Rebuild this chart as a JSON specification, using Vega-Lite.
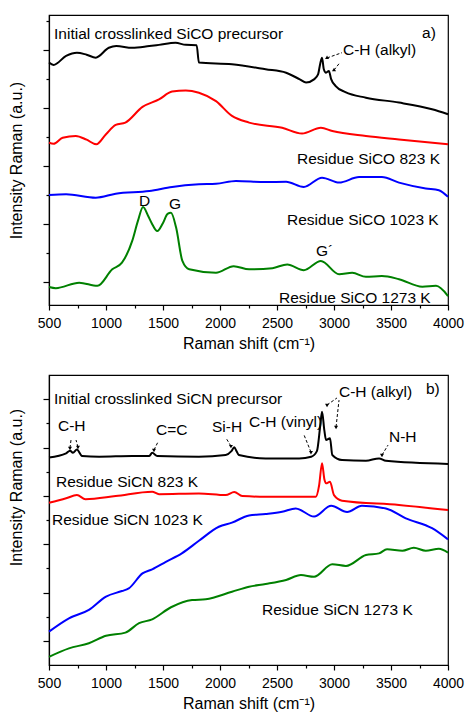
{
  "$schema": "https://vega.github.io/schema/vega-lite/v6.json",
  "padding": {"left": 7, "top": 14, "right": 0, "bottom": 0},
  "spacing": 22,
  "config": {
    "font": "Liberation Sans",
    "view": {"stroke": "#000", "strokeWidth": 1.2},
    "axis": {"grid": false, "domainColor": "#000", "tickColor": "#000", "labelColor": "#000", "titleColor": "#000", "labelFont": "Liberation Sans", "titleFont": "Liberation Sans", "labelFontSize": 14, "titleFontSize": 16, "titleFontWeight": "normal", "domainWidth": 1.2, "tickWidth": 1.2}
  },
  "datasets": {
    "spectraA": [
      {"series":"pre","shift":500,"intensity":7.56},{"series":"pre","shift":540,"intensity":7.48},{"series":"pre","shift":650,"intensity":7.79},{"series":"pre","shift":745,"intensity":7.90},{"series":"pre","shift":830,"intensity":7.83},{"series":"pre","shift":910,"intensity":7.73},{"series":"pre","shift":1025,"intensity":8.07},{"series":"pre","shift":1090,"intensity":8.13},{"series":"pre","shift":1230,"intensity":8.07},{"series":"pre","shift":1380,"intensity":8.13},{"series":"pre","shift":1465,"intensity":8.17},{"series":"pre","shift":1610,"intensity":8.24},{"series":"pre","shift":1700,"intensity":8.17},{"series":"pre","shift":1795,"intensity":8.16},{"series":"pre","shift":1815,"intensity":7.56},{"series":"pre","shift":2105,"intensity":7.50},{"series":"pre","shift":2400,"intensity":7.33},{"series":"pre","shift":2580,"intensity":7.21},{"series":"pre","shift":2700,"intensity":6.98},{"series":"pre","shift":2755,"intensity":6.87},{"series":"pre","shift":2825,"intensity":6.98},{"series":"pre","shift":2860,"intensity":7.15},{"series":"pre","shift":2880,"intensity":7.54},{"series":"pre","shift":2895,"intensity":7.73},{"series":"pre","shift":2910,"intensity":7.34},{"series":"pre","shift":2930,"intensity":7.21},{"series":"pre","shift":2955,"intensity":7.27},{"series":"pre","shift":2975,"intensity":6.99},{"series":"pre","shift":3015,"intensity":6.75},{"series":"pre","shift":3100,"intensity":6.54},{"series":"pre","shift":3280,"intensity":6.35},{"series":"pre","shift":3570,"intensity":6.18},{"series":"pre","shift":3860,"intensity":5.95},{"series":"pre","shift":4000,"intensity":5.78},
      {"series":"823","shift":500,"intensity":4.80},{"series":"823","shift":540,"intensity":4.76},{"series":"823","shift":620,"intensity":4.97},{"series":"823","shift":735,"intensity":5.03},{"series":"823","shift":830,"intensity":4.90},{"series":"823","shift":915,"intensity":4.74},{"series":"823","shift":1000,"intensity":5.09},{"series":"823","shift":1085,"intensity":5.41},{"series":"823","shift":1170,"intensity":5.49},{"series":"823","shift":1320,"intensity":6.03},{"series":"823","shift":1465,"intensity":6.29},{"series":"823","shift":1580,"intensity":6.56},{"series":"823","shift":1700,"intensity":6.60},{"series":"823","shift":1815,"intensity":6.52},{"series":"823","shift":1965,"intensity":6.23},{"series":"823","shift":2105,"intensity":5.72},{"series":"823","shift":2255,"intensity":5.49},{"series":"823","shift":2545,"intensity":5.31},{"series":"823","shift":2720,"intensity":5.11},{"series":"823","shift":2885,"intensity":5.31},{"series":"823","shift":2985,"intensity":5.20},{"series":"823","shift":3280,"intensity":5.03},{"series":"823","shift":3570,"intensity":4.91},{"series":"823","shift":4000,"intensity":4.74},
      {"series":"1023","shift":500,"intensity":2.99},{"series":"1023","shift":650,"intensity":3.02},{"series":"1023","shift":910,"intensity":2.90},{"series":"1023","shift":1085,"intensity":3.04},{"series":"1023","shift":1380,"intensity":3.13},{"series":"1023","shift":1580,"intensity":3.27},{"series":"1023","shift":1815,"intensity":3.36},{"series":"1023","shift":1965,"intensity":3.38},{"series":"1023","shift":2140,"intensity":3.48},{"series":"1023","shift":2400,"intensity":3.44},{"series":"1023","shift":2580,"intensity":3.45},{"series":"1023","shift":2735,"intensity":3.27},{"series":"1023","shift":2895,"intensity":3.59},{"series":"1023","shift":3045,"intensity":3.42},{"series":"1023","shift":3220,"intensity":3.61},{"series":"1023","shift":3420,"intensity":3.61},{"series":"1023","shift":3570,"intensity":3.42},{"series":"1023","shift":3805,"intensity":3.22},{"series":"1023","shift":3920,"intensity":3.16},{"series":"1023","shift":4000,"intensity":2.93},
      {"series":"1273","shift":500,"intensity":-0.18},{"series":"1273","shift":560,"intensity":-0.22},{"series":"1273","shift":765,"intensity":-0.03},{"series":"1273","shift":925,"intensity":-0.14},{"series":"1273","shift":1055,"intensity":0.43},{"series":"1273","shift":1140,"intensity":0.66},{"series":"1273","shift":1230,"intensity":1.41},{"series":"1273","shift":1280,"intensity":2.10},{"series":"1273","shift":1325,"intensity":2.58},{"series":"1273","shift":1370,"intensity":2.27},{"series":"1273","shift":1400,"intensity":2.03},{"series":"1273","shift":1450,"intensity":1.75},{"series":"1273","shift":1500,"intensity":2.03},{"series":"1273","shift":1540,"intensity":2.34},{"series":"1273","shift":1570,"intensity":2.38},{"series":"1273","shift":1615,"intensity":1.87},{"series":"1273","shift":1670,"intensity":0.72},{"series":"1273","shift":1730,"intensity":0.43},{"series":"1273","shift":1965,"intensity":0.31},{"series":"1273","shift":2120,"intensity":0.54},{"series":"1273","shift":2255,"intensity":0.43},{"series":"1273","shift":2460,"intensity":0.47},{"series":"1273","shift":2590,"intensity":0.60},{"series":"1273","shift":2735,"intensity":0.40},{"series":"1273","shift":2885,"intensity":0.72},{"series":"1273","shift":3045,"intensity":0.26},{"series":"1273","shift":3160,"intensity":0.31},{"series":"1273","shift":3280,"intensity":0.17},{"series":"1273","shift":3420,"intensity":0.20},{"series":"1273","shift":3570,"intensity":0.09},{"series":"1273","shift":3775,"intensity":-0.17},{"series":"1273","shift":3895,"intensity":-0.14},{"series":"1273","shift":4000,"intensity":-0.49}
    ],
    "spectraB": [
      {"series":"pre","shift":500,"intensity":7.59},{"series":"pre","shift":650,"intensity":7.76},{"series":"pre","shift":685,"intensity":7.87},{"series":"pre","shift":710,"intensity":7.78},{"series":"pre","shift":745,"intensity":7.92},{"series":"pre","shift":790,"intensity":7.65},{"series":"pre","shift":940,"intensity":7.62},{"series":"pre","shift":1230,"intensity":7.65},{"series":"pre","shift":1380,"intensity":7.65},{"series":"pre","shift":1405,"intensity":7.78},{"series":"pre","shift":1450,"intensity":7.65},{"series":"pre","shift":1815,"intensity":7.62},{"series":"pre","shift":2050,"intensity":7.69},{"series":"pre","shift":2100,"intensity":7.85},{"series":"pre","shift":2125,"intensity":8.01},{"series":"pre","shift":2145,"intensity":7.85},{"series":"pre","shift":2165,"intensity":7.69},{"series":"pre","shift":2400,"intensity":7.55},{"series":"pre","shift":2695,"intensity":7.55},{"series":"pre","shift":2800,"intensity":7.62},{"series":"pre","shift":2850,"intensity":7.85},{"series":"pre","shift":2880,"intensity":8.93},{"series":"pre","shift":2895,"intensity":9.48},{"series":"pre","shift":2915,"intensity":8.72},{"series":"pre","shift":2930,"intensity":8.31},{"series":"pre","shift":2965,"intensity":8.38},{"series":"pre","shift":2985,"intensity":7.69},{"series":"pre","shift":3070,"intensity":7.48},{"series":"pre","shift":3280,"intensity":7.45},{"series":"pre","shift":3395,"intensity":7.55},{"series":"pre","shift":3455,"intensity":7.45},{"series":"pre","shift":4000,"intensity":7.32},
      {"series":"823","shift":500,"intensity":5.71},{"series":"823","shift":650,"intensity":5.90},{"series":"823","shift":745,"intensity":6.03},{"series":"823","shift":820,"intensity":5.86},{"series":"823","shift":1085,"intensity":5.99},{"series":"823","shift":1405,"intensity":6.17},{"series":"823","shift":1465,"intensity":6.07},{"series":"823","shift":1815,"intensity":6.10},{"series":"823","shift":2050,"intensity":6.03},{"series":"823","shift":2125,"intensity":6.16},{"series":"823","shift":2195,"intensity":5.99},{"series":"823","shift":2400,"intensity":5.96},{"series":"823","shift":2840,"intensity":5.96},{"series":"823","shift":2870,"intensity":6.45},{"series":"823","shift":2895,"intensity":7.35},{"series":"823","shift":2915,"intensity":6.70},{"series":"823","shift":2930,"intensity":6.52},{"series":"823","shift":2965,"intensity":6.58},{"series":"823","shift":3000,"intensity":6.03},{"series":"823","shift":3070,"intensity":5.80},{"series":"823","shift":3570,"intensity":5.62},{"series":"823","shift":4000,"intensity":5.41},
      {"series":"1023","shift":500,"intensity":0.38},{"series":"1023","shift":675,"intensity":0.93},{"series":"1023","shift":850,"intensity":1.28},{"series":"1023","shift":1000,"intensity":1.83},{"series":"1023","shift":1140,"intensity":2.06},{"series":"1023","shift":1200,"intensity":2.17},{"series":"1023","shift":1320,"intensity":2.79},{"series":"1023","shift":1405,"intensity":2.96},{"series":"1023","shift":1525,"intensity":3.27},{"series":"1023","shift":1665,"intensity":3.62},{"series":"1023","shift":1815,"intensity":4.14},{"series":"1023","shift":1990,"intensity":4.72},{"series":"1023","shift":2105,"intensity":4.89},{"series":"1023","shift":2255,"intensity":5.19},{"series":"1023","shift":2400,"intensity":5.25},{"series":"1023","shift":2545,"intensity":5.34},{"series":"1023","shift":2665,"intensity":5.48},{"series":"1023","shift":2825,"intensity":5.14},{"series":"1023","shift":2975,"intensity":5.59},{"series":"1023","shift":3115,"intensity":5.33},{"series":"1023","shift":3245,"intensity":5.59},{"series":"1023","shift":3455,"intensity":5.48},{"series":"1023","shift":3630,"intensity":5.07},{"series":"1023","shift":3860,"intensity":4.66},{"series":"1023","shift":4000,"intensity":4.20},
      {"series":"1273","shift":500,"intensity":-0.66},{"series":"1273","shift":675,"intensity":-0.31},{"series":"1273","shift":850,"intensity":-0.10},{"series":"1273","shift":1000,"intensity":0.21},{"series":"1273","shift":1170,"intensity":0.34},{"series":"1273","shift":1290,"intensity":0.73},{"series":"1273","shift":1405,"intensity":0.89},{"series":"1273","shift":1570,"intensity":1.39},{"series":"1273","shift":1755,"intensity":1.69},{"series":"1273","shift":1875,"intensity":1.72},{"series":"1273","shift":2105,"intensity":2.03},{"series":"1273","shift":2255,"intensity":2.24},{"series":"1273","shift":2400,"intensity":2.35},{"series":"1273","shift":2580,"intensity":2.52},{"series":"1273","shift":2710,"intensity":2.72},{"series":"1273","shift":2825,"intensity":2.65},{"series":"1273","shift":2985,"intensity":3.17},{"series":"1273","shift":3105,"intensity":3.10},{"series":"1273","shift":3280,"intensity":3.55},{"series":"1273","shift":3395,"intensity":3.62},{"series":"1273","shift":3465,"intensity":3.79},{"series":"1273","shift":3600,"intensity":3.73},{"series":"1273","shift":3700,"intensity":3.85},{"series":"1273","shift":3805,"intensity":3.73},{"series":"1273","shift":3920,"intensity":3.81},{"series":"1273","shift":4000,"intensity":3.65}
    ],
    "labelsA": [
      {"label":"Initial crosslinked SiCO precursor","shift":544,"intensity":8.56},
      {"label":"a)","shift":3772,"intensity":8.59},
      {"label":"C-H (alkyl)","shift":3079,"intensity":7.98},
      {"label":"Residue SiCO 823 K","shift":2675,"intensity":4.22},
      {"label":"Residue SiCO 1023 K","shift":2588,"intensity":2.13},
      {"label":"Residue SiCO 1273 K","shift":2518,"intensity":-0.55},
      {"label":"D","shift":1289,"intensity":2.79},
      {"label":"G","shift":1553,"intensity":2.67},
      {"label":"G´","shift":2842,"intensity":1.06}
    ],
    "arrowsA": [
      {"shift":2939,"intensity":7.72,"shift2":3070,"intensity2":7.90},
      {"shift":3000,"intensity":7.30,"shift2":3044,"intensity2":7.52}
    ],
    "labelsB": [
      {"label":"Initial crosslinked SiCN precursor","shift":544,"intensity":9.99},
      {"label":"b)","shift":3807,"intensity":10.42},
      {"label":"C-H","shift":579,"intensity":8.89},
      {"label":"C=C","shift":1439,"intensity":8.72},
      {"label":"Si-H","shift":1930,"intensity":8.85},
      {"label":"C-H (vinyl)","shift":2254,"intensity":9.07},
      {"label":"C-H (alkyl)","shift":3044,"intensity":10.28},
      {"label":"N-H","shift":3482,"intensity":8.45},
      {"label":"Residue SiCN 823 K","shift":561,"intensity":6.58},
      {"label":"Residue SiCN 1023 K","shift":526,"intensity":5.0},
      {"label":"Residue SiCN 1273 K","shift":2368,"intensity":1.28}
    ],
    "arrowsB": [
      {"shift":684,"intensity":7.98,"shift2":693,"intensity2":8.31},
      {"shift":754,"intensity":8.02,"shift2":737,"intensity2":8.31},
      {"shift":1421,"intensity":7.90,"shift2":1456,"intensity2":8.23},
      {"shift":2096,"intensity":8.06,"shift2":2053,"intensity2":8.39},
      {"shift":2798,"intensity":7.81,"shift2":2737,"intensity2":8.52},
      {"shift":2939,"intensity":9.76,"shift2":3026,"intensity2":10.05},
      {"shift":3018,"intensity":8.85,"shift2":3044,"intensity2":9.96},
      {"shift":3421,"intensity":7.69,"shift2":3474,"intensity2":8.10}
    ]
  },
  "vconcat": [
    {
      "width": 399,
      "height": 290,
      "encoding": {
        "x": {"field": "shift", "type": "quantitative", "title": "Raman shift (cm⁻¹)",
          "scale": {"domain": [500, 4000], "nice": false, "zero": false},
          "axis": {"values": [500,750,1000,1250,1500,1750,2000,2250,2500,2750,3000,3250,3500,3750,4000], "format": "d", "labelExpr": "datum.value % 500 == 0 ? datum.label : ''", "tickSize": {"condition": {"test": "datum.value % 500 == 0", "value": 5}, "value": 3}, "labelPadding": 6, "titlePadding": 5, "labelFlush": false, "labelOverlap": false}},
        "y": {"field": "intensity", "type": "quantitative", "title": "Intensity Raman (a.u.)",
          "scale": {"domain": [-0.8, 9.2], "nice": false, "zero": false},
          "axis": {"values": [0,1,2,3,4,5,6,7,8,9], "labels": false, "tickSize": {"condition": {"test": "datum.value % 2 == 0", "value": 6}, "value": 3}, "titlePadding": 18}}
      },
      "layer": [
        {"data": {"name": "spectraA"}, "mark": {"type": "line", "strokeWidth": 2, "interpolate": "monotone"},
          "encoding": {"color": {"field": "series", "type": "nominal", "scale": {"domain": ["pre","823","1023","1273"], "range": ["#000000","#ff0000","#0000ff","#008000"]}, "legend": null}}},
        {"data": {"name": "labelsA"}, "mark": {"type": "text", "align": "left", "baseline": "middle", "fontSize": 15.5, "color": "#000", "font": "Liberation Sans"},
          "encoding": {"text": {"field": "label"}}},
        {"data": {"name": "arrowsA"}, "mark": {"type": "rule", "strokeDash": [3, 2], "color": "#000", "strokeWidth": 1},
          "encoding": {"x2": {"field": "shift2"}, "y2": {"field": "intensity2"}}},
        {"data": {"name": "arrowsA"}, "mark": {"type": "point", "shape": "triangle", "filled": true, "size": 16, "angle": 240, "color": "#000", "opacity": 1},
          "encoding": {}}
      ]
    },
    {
      "width": 399,
      "height": 290,
      "encoding": {
        "x": {"field": "shift", "type": "quantitative", "title": "Raman shift (cm⁻¹)",
          "scale": {"domain": [500, 4000], "nice": false, "zero": false},
          "axis": {"values": [500,750,1000,1250,1500,1750,2000,2250,2500,2750,3000,3250,3500,3750,4000], "format": "d", "labelExpr": "datum.value % 500 == 0 ? datum.label : ''", "tickSize": {"condition": {"test": "datum.value % 500 == 0", "value": 5}, "value": 3}, "labelPadding": 6, "titlePadding": 5, "labelFlush": false, "labelOverlap": false}},
        "y": {"field": "intensity", "type": "quantitative", "title": "Intensity Raman (a.u.)",
          "scale": {"domain": [-1, 11], "nice": false, "zero": false},
          "axis": {"values": [0,1,2,3,4,5,6,7,8,9,10], "labels": false, "tickSize": {"condition": {"test": "datum.value % 2 == 0", "value": 6}, "value": 3}, "titlePadding": 18, "titleY": 112}}
      },
      "layer": [
        {"data": {"name": "spectraB"}, "mark": {"type": "line", "strokeWidth": 2, "interpolate": "monotone"},
          "encoding": {"color": {"field": "series", "type": "nominal", "scale": {"domain": ["pre","823","1023","1273"], "range": ["#000000","#ff0000","#0000ff","#008000"]}, "legend": null}}},
        {"data": {"name": "labelsB"}, "mark": {"type": "text", "align": "left", "baseline": "middle", "fontSize": 15.5, "color": "#000", "font": "Liberation Sans"},
          "encoding": {"text": {"field": "label"}}},
        {"data": {"name": "arrowsB"}, "mark": {"type": "rule", "strokeDash": [3, 2], "color": "#000", "strokeWidth": 1},
          "encoding": {"x2": {"field": "shift2"}, "y2": {"field": "intensity2"}}},
        {"data": {"name": "arrowsB"}, "mark": {"type": "point", "shape": "triangle", "filled": true, "size": 16, "angle": 180, "color": "#000", "opacity": 1},
          "encoding": {}}
      ]
    }
  ]
}
